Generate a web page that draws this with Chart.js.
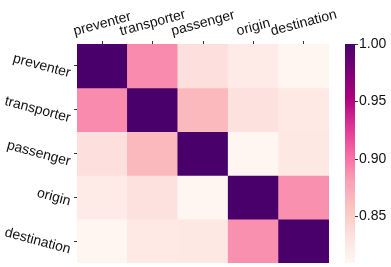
<!DOCTYPE html>
<html lang="en">
<head>
    <meta charset="UTF-8">
    <title>Similarity heatmap</title>
    <script src="https://cdn.jsdelivr.net/npm/chart.js"></script>
    <style>
        html, body { margin: 0; padding: 0; background: #fff; overflow: hidden; }
        canvas { display: block; }
    </style>
</head>
<body>
    <canvas id="heatmap" width="391" height="267"></canvas>
    <script>
        const labels = ['preventer', 'transporter', 'passenger', 'origin', 'destination'];

        // one row of the matrix per word
        const preventer   = [1.000, 0.889, 0.833, 0.821, 0.811];
        const transporter = [0.889, 1.000, 0.864, 0.832, 0.824];
        const passenger   = [0.833, 0.864, 1.000, 0.810, 0.825];
        const origin      = [0.821, 0.832, 0.810, 1.000, 0.887];
        const destination = [0.811, 0.824, 0.825, 0.887, 1.000];
        const matrix = [preventer, transporter, passenger, origin, destination];

        const vmin = 0.809;
        const vmax = 1.0;
        const cbarTicks = [0.85, 0.90, 0.95, 1.00];

        // RdPu
        const rdpu = [
            [255, 247, 243], [253, 224, 221], [252, 197, 192], [250, 159, 181],
            [247, 104, 161], [221, 52, 151], [174, 1, 126], [122, 1, 119], [73, 0, 106]
        ];
        function cmap(t) {
            t = Math.max(0, Math.min(1, t));
            const p = t * (rdpu.length - 1);
            const i = Math.min(Math.floor(p), rdpu.length - 2);
            const f = p - i;
            const c = rdpu[i].map((v, k) => Math.round(v + (rdpu[i + 1][k] - v) * f));
            return 'rgb(' + c.join(',') + ')';
        }
        const colorOf = v => cmap((v - vmin) / (vmax - vmin));

        const FONT = '"Liberation Sans", Arial, sans-serif';
        const ANGLE = 15 * Math.PI / 180;

        const datasets = matrix.map((row, r) => ({
            label: labels[r],
            data: row.map(() => [r, r + 1]),
            backgroundColor: row.map(colorOf),
            borderWidth: 0,
            grouped: false,
            barPercentage: 1,
            categoryPercentage: 1
        }));

        const labelPlugin = {
            id: 'labels',
            afterDraw(chart) {
                const ctx = chart.ctx;
                const xs = chart.scales.x, ys = chart.scales.y, cb = chart.scales.cbar;
                const area = chart.chartArea;
                ctx.save();
                ctx.font = '14px ' + FONT;
                ctx.fillStyle = '#111';
                ctx.textAlign = 'center';
                ctx.textBaseline = 'middle';
                const H = 13;
                // top labels, rotated ccw, centred on column
                labels.forEach((name, i) => {
                    const w = ctx.measureText(name).width;
                    const bh = w * Math.sin(ANGLE) + H * Math.cos(ANGLE);
                    const x = xs.getPixelForTick(i);
                    const y = area.top - 6 - bh / 2;
                    ctx.save();
                    ctx.translate(x, y);
                    ctx.rotate(-ANGLE);
                    ctx.fillText(name, 0, 0);
                    ctx.restore();
                });
                // left labels, rotated cw, right aligned
                labels.forEach((name, i) => {
                    const w = ctx.measureText(name).width;
                    const bw = w * Math.cos(ANGLE) + H * Math.sin(ANGLE);
                    const x = area.left - 5 - bw / 2;
                    const y = ys.getPixelForValue(i + 0.5);
                    ctx.save();
                    ctx.translate(x, y);
                    ctx.rotate(ANGLE);
                    ctx.fillText(name, 0, 0);
                    ctx.restore();
                });
                // colour bar
                const top = cb.getPixelForValue(vmax), bottom = cb.getPixelForValue(vmin);
                const grad = ctx.createLinearGradient(0, bottom, 0, top);
                for (let k = 0; k <= 16; k++) grad.addColorStop(k / 16, cmap(k / 16));
                ctx.fillStyle = grad;
                ctx.fillRect(area.right + 16, top, 10, bottom - top);
                ctx.strokeStyle = '#333';
                ctx.lineWidth = 1;
                cbarTicks.forEach(v => {
                    const y = Math.round(cb.getPixelForValue(v)) + 0.5;
                    ctx.beginPath();
                    ctx.moveTo(area.right + 26, y);
                    ctx.lineTo(area.right + 29, y);
                    ctx.stroke();
                });
                ctx.restore();
            }
        };

        new Chart(document.getElementById('heatmap'), {
            type: 'bar',
            data: { labels: labels, datasets: datasets },
            plugins: [labelPlugin],
            options: {
                responsive: false,
                animation: false,
                layout: { padding: { top: 0, left: 0, right: 0, bottom: 4 } },
                plugins: { legend: { display: false }, tooltip: { enabled: false } },
                scales: {
                    x: {
                        type: 'category',
                        position: 'top',
                        offset: true,
                        grid: { offset: false, drawOnChartArea: false, tickLength: 3, tickColor: '#333' },
                        border: { display: false },
                        ticks: { display: false },
                        afterFit: s => { s.height = 44; }
                    },
                    y: {
                        type: 'linear',
                        min: 0,
                        max: 5,
                        reverse: true,
                        afterBuildTicks: s => { s.ticks = labels.map((_, i) => ({ value: i + 0.5 })); },
                        grid: { drawOnChartArea: false, tickLength: 3, tickColor: '#333' },
                        border: { display: false },
                        ticks: { display: false },
                        afterFit: s => { s.width = 77; }
                    },
                    cbar: {
                        type: 'linear',
                        position: 'right',
                        min: vmin,
                        max: vmax,
                        afterBuildTicks: s => { s.ticks = cbarTicks.map(v => ({ value: v })); },
                        grid: { display: false, drawTicks: false },
                        border: { display: false },
                        ticks: {
                            padding: 30,
                            color: '#111',
                            font: { family: FONT, size: 14 },
                            callback: v => v.toFixed(2)
                        },
                        // labels sit beside the colour bar, they must not shrink the plot
                        afterFit: s => { s.width = 62; s.paddingTop = 0; s.paddingBottom = 0; }
                    }
                }
            }
        });
    </script>
</body>
</html>
